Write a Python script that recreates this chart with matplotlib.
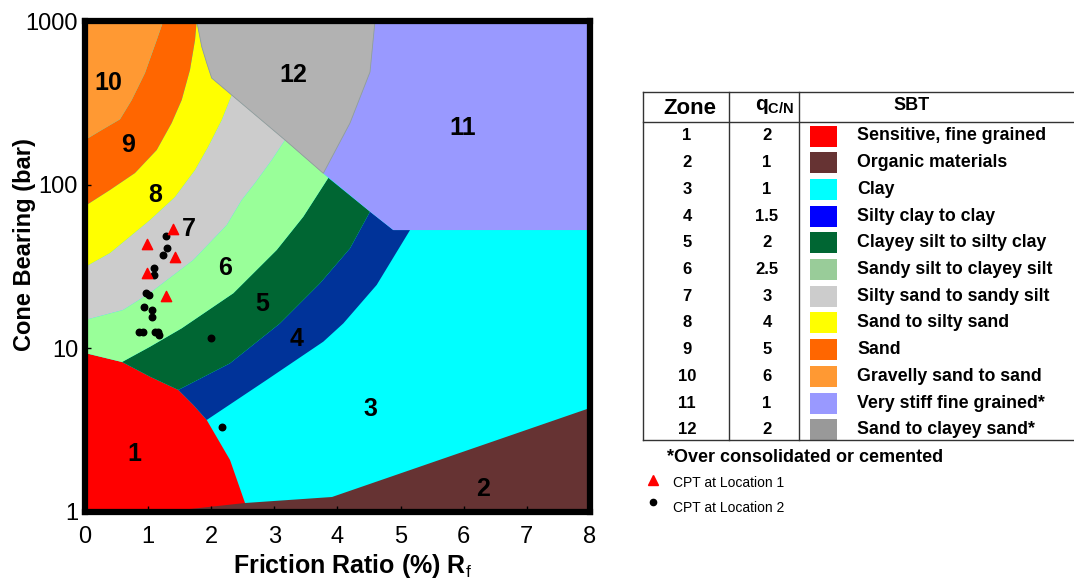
import matplotlib.pyplot as plt
from matplotlib.patches import Polygon, Rectangle
from matplotlib.lines import Line2D
from matplotlib.ticker import FixedLocator, NullLocator

plt.rcParams['font.family'] = ['Liberation Sans', 'DejaVu Sans']
plt.rcParams['mathtext.fontset'] = 'custom'
plt.rcParams['mathtext.rm'] = 'Liberation Sans'
plt.rcParams['mathtext.bf'] = 'Liberation Sans:bold'

# zone boundaries as (Rf %, qc bar)
red_top = [(0, 9.36), (0.586, 8.25), (1.03, 6.71), (1.478, 5.57), (1.716, 4.51),
           (1.928, 3.65), (2.297, 2.08), (2.535, 1.135), (2.58, 1.0)]
brown_top = [(1.236, 1.0), (2.535, 1.135), (3.913, 1.235), (8.0, 4.32)]
b34 = [(1.928, 3.65), (2.878, 6.41), (3.775, 10.98), (4.092, 14.2), (4.621, 24.4), (5.149, 52.8)]
b45 = [(1.478, 5.57), (2.297, 8.10), (3.089, 14.2), (3.723, 24.97), (4.198, 40.8), (4.515, 68.4)]
b56 = [(0.586, 8.25), (1.03, 10.23), (1.532, 13.26), (2.349, 21.7), (3.037, 39.9),
       (3.458, 63.7), (3.854, 110.0)]
b67 = [(0, 14.9), (0.602, 17.15), (1.03, 21.8), (1.716, 34.7), (2.245, 56.7), (2.482, 80.6),
       (2.693, 102.4), (2.958, 141.5), (3.168, 187.5)]
b78 = [(0, 31.4), (0.396, 38.2), (1.03, 60.8), (1.426, 84.1), (1.743, 122.9), (1.949, 169.8),
       (2.166, 248.4), (2.324, 353)]
b89 = [(0, 74.1), (0.396, 92.8), (0.792, 117.8), (1.136, 162.8), (1.373, 238), (1.532, 329),
       (1.663, 502), (1.743, 765), (1.77, 1000)]
b910 = [(0, 187.5), (0.265, 215.8), (0.554, 250.8), (0.74, 329), (0.95, 481), (1.136, 765), (1.24, 1000)]
b8_12 = [(1.77, 1000), (1.849, 697), (1.928, 554), (2.007, 448), (2.324, 353)]
b12_low = [(2.324, 353), (3.168, 187.5), (3.775, 117.3)]
b11_12 = [(3.775, 117.3), (4.198, 238), (4.515, 488), (4.594, 1000)]
b11_low = [(3.775, 117.3), (4.515, 68.4), (4.884, 52.8), (8.0, 52.8)]

plot_colors = {1: '#FF0000', 2: '#663333', 3: '#00FFFF', 4: '#003399', 5: '#006633',
               6: '#99FF99', 7: '#CCCCCC', 8: '#FFFF00', 9: '#FF6600', 10: '#FF9933',
               11: '#9999FF', 12: '#B2B2B2'}

zone_label_pos = {1: (0.776, 2.26), 2: (6.305, 1.38), 3: (4.515, 4.26), 4: (3.358, 11.4),
                  5: (2.804, 18.7), 6: (2.218, 31.0), 7: (1.648, 53.6), 8: (1.109, 86.5),
                  9: (0.681, 175), 10: (0.364, 418), 11: (5.988, 222), 12: (3.295, 468)}

# CPT data
loc1_rf = [1.389, 0.987, 1.430, 0.977, 1.283]
loc1_qc = [53.6, 43.4, 36.1, 29.0, 21.0]
loc2_rf = [1.278, 1.304, 1.240, 1.088, 1.088, 0.966, 1.019, 0.935, 1.057, 1.066,
           0.860, 0.924, 1.109, 1.152, 1.177, 2.001, 2.166]
loc2_qc = [48.8, 40.8, 37.2, 31.1, 28.1, 21.8, 21.1, 17.9, 17.1, 15.5,
           12.5, 12.5, 12.6, 12.5, 12.1, 11.5, 3.29]

# table
zones = ['1', '2', '3', '4', '5', '6', '7', '8', '9', '10', '11', '12']
qcn = ['2', '1', '1', '1.5', '2', '2.5', '3', '4', '5', '6', '1', '2']
sbt = ['Sensitive, fine grained', 'Organic materials', 'Clay', 'Silty clay to clay',
       'Clayey silt to silty clay', 'Sandy silt to clayey silt', 'Silty sand to sandy silt',
       'Sand to silty sand', 'Sand', 'Gravelly sand to sand', 'Very stiff fine grained*',
       'Sand to clayey sand*']
swatch_colors = ['#FF0000', '#663333', '#00FFFF', '#0000FF', '#006633', '#99CC99',
                 '#CCCCCC', '#FFFF00', '#FF6600', '#FF9933', '#9999FF', '#999999']

polys = {
    1: [(0, 1.0)] + red_top,
    2: brown_top + [(8.0, 1.0)],
    4: b45 + [(4.884, 52.8)] + b34[::-1] + [(1.716, 4.51)],
    5: b56 + b45[::-1] + [(1.03, 6.71)],
    6: b67 + [(3.775, 117.3)] + b56[::-1] + [(0, 9.36)],
    7: b78 + b67[::-1],
    8: b89 + b8_12[1:-1] + b78[::-1],
    9: b910 + b89[::-1],
    10: [(0, 1000)] + b910,
    11: b11_low + [(8.0, 1000)] + b11_12[::-1],
    12: b8_12 + b12_low[1:] + b11_12[1:],
}

W, H = 1074, 581
fig = plt.figure(figsize=(W / 100, H / 100), dpi=100)
ax = fig.add_axes([85 / W, 1 - 512 / H, 505 / W, 491 / H])
ax.set_facecolor(plot_colors[3])
ax.set_yscale('log')
ax.set_xlim(0, 8)
ax.set_ylim(1, 1000)

for z, pts in polys.items():
    ec = '#999999' if z == 12 else 'none'
    ax.add_patch(Polygon(pts, closed=True, facecolor=plot_colors[z], edgecolor=ec,
                         linewidth=0.6, zorder=1))

for z, (x, y) in zone_label_pos.items():
    ax.text(x, y, str(z), fontsize=18, fontweight='bold', ha='center', va='center', zorder=3)

ax.scatter(loc2_rf, loc2_qc, s=22, color='black', zorder=4)
ax.scatter(loc1_rf, loc1_qc, s=55, marker='^', color='red', zorder=4)

ax.xaxis.set_major_locator(FixedLocator(range(9)))
ax.yaxis.set_major_locator(FixedLocator([1, 10, 100, 1000]))
ax.yaxis.set_minor_locator(NullLocator())
ax.set_yticklabels(['1', '10', '100', '1000'])
ax.tick_params(direction='in', length=4, width=1, labelsize=17)
ax.tick_params(axis='x', pad=10)
ax.tick_params(axis='y', pad=5)
for sp in ax.spines.values():
    sp.set_linewidth(4.5)

ax.set_xlabel(r'Friction Ratio (%) R$_{\mathrm{f}}$', fontsize=18, fontweight='bold', labelpad=3)
ax.xaxis.label.set_x(0.53)
ax.set_ylabel('Cone Bearing (bar)', fontsize=17, fontweight='bold')
ax.yaxis.set_label_coords(-0.098, 0.544)


def fx(px):
    return px / W


def fy(py):
    return 1 - py / H


line_kw = dict(color='#333333', linewidth=1.0, transform=fig.transFigure)
for y in [92, 122, 440]:
    fig.add_artist(Line2D([fx(643), fx(1074)], [fy(y), fy(y)], **line_kw))
for x in [643, 729, 799]:
    fig.add_artist(Line2D([fx(x), fx(x)], [fy(92), fy(440)], **line_kw))

fig.text(fx(690), fy(109), 'Zone', fontsize=16, fontweight='bold', ha='center', va='center')
fig.text(fx(775), fy(107), r'$\mathbf{q_{C/N}}$', fontsize=15, ha='center', va='center')
fig.text(fx(912), fy(106), 'SBT', fontsize=13, fontweight='bold', ha='center', va='center')

for i in range(len(zones)):
    y = 136 + i * 26.7
    fig.text(fx(687), fy(y), zones[i], fontsize=12, fontweight='bold', ha='center', va='center')
    fig.text(fx(767), fy(y), qcn[i], fontsize=12, fontweight='bold', ha='center', va='center')
    fig.add_artist(Rectangle((fx(810), fy(y + 10.5)), 27 / W, 21 / H, transform=fig.transFigure,
                             facecolor=swatch_colors[i], edgecolor='none'))
    fig.text(fx(857), fy(y), sbt[i], fontsize=12.8, fontweight='bold', ha='left', va='center')

fig.text(fx(667), fy(457), '*Over consolidated or cemented', fontsize=13, fontweight='bold',
         ha='left', va='center')

fig.add_artist(Line2D([fx(653)], [fy(480)], marker='^', color='red', markersize=7,
                      transform=fig.transFigure))
fig.text(fx(673), fy(483), 'CPT at Location 1', fontsize=10, ha='left', va='center')
fig.add_artist(Line2D([fx(653)], [fy(502)], marker='o', color='black', markersize=4.5,
                      transform=fig.transFigure))
fig.text(fx(673), fy(508), 'CPT at Location 2', fontsize=10, ha='left', va='center')

fig.savefig('out.png', dpi=100)
